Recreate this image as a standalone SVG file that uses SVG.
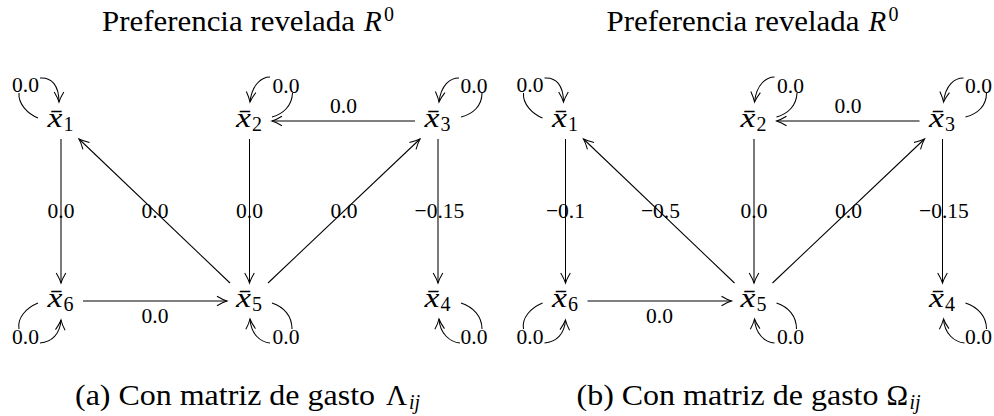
<svg xmlns="http://www.w3.org/2000/svg" width="994" height="416" viewBox="0 0 994 416">
<style>
.ln{stroke:#000;stroke-width:1.05;fill:none}
.ar{marker-end:url(#ah)}
text{font-family:'Liberation Serif','DejaVu Serif',serif;fill:#000}
.lb{font-size:21.5px;text-anchor:middle}
.nx{font-style:italic;font-size:28px}
.ns{font-size:20px}
.tt{font-size:29px}
.ti{font-style:italic;font-size:29px}
.sp{font-size:20px}
.si{font-style:italic;font-size:20px}
</style>
<defs>
<marker id="ah" markerUnits="userSpaceOnUse" viewBox="-12 -7 14 14" markerWidth="14" markerHeight="14" refX="0" refY="0" orient="auto">
<path d="M-10,-4.8 Q-4,-1.2 0,0 Q-4,1.2 -10,4.8" fill="none" stroke="#000" stroke-width="1.05"/>
</marker>
</defs>

<g id="panel-a">
<text class="tt" x="102" y="31" textLength="253" lengthAdjust="spacingAndGlyphs">Preferencia revelada</text>
<text class="ti" x="364" y="31">R</text>
<text class="sp" x="384" y="21">0</text>

<g id="a-edges">
<path class="ln ar" d="M61,139 L61,283"/>
<text class="lb" x="61" y="218">0.0</text>
<path class="ln ar" d="M230,283 L79,139"/>
<text class="lb" x="155" y="218">0.0</text>
<path class="ln ar" d="M249.5,139 L249.5,283"/>
<text class="lb" x="249.5" y="218">0.0</text>
<path class="ln ar" d="M268,283 L420,139"/>
<text class="lb" x="344" y="218">0.0</text>
<path class="ln ar" d="M438,139 L438,283"/>
<text class="lb" x="439.5" y="218">−0.15</text>
<path class="ln ar" d="M415,121 L272,121"/>
<text class="lb" x="343.5" y="113">0.0</text>
<path class="ln ar" d="M83,301 L227,301"/>
<text class="lb" x="155" y="323">0.0</text>
<path class="ln" d="M38,118 C28,114 18,104 19,93"/>
<path class="ln ar" d="M40,78 C52,77 59,86 59,102"/>
<text class="lb" x="25.5" y="92">0.0</text>
<path class="ln" d="M272,117 C283,114 292,106 292.5,93"/>
<path class="ln ar" d="M270,77 C262,77 252,84 250,102"/>
<text class="lb" x="286" y="92.5">0.0</text>
<path class="ln" d="M461,117 C473,114 482,106 482,93"/>
<path class="ln ar" d="M459,78 C450,78 441,85 439,102"/>
<text class="lb" x="474" y="92.5">0.0</text>
<path class="ln" d="M38,303 C26,308 17,318 19,329"/>
<path class="ln ar" d="M40,343 C52,342 60,334 61,320"/>
<text class="lb" x="25.5" y="343.5">0.0</text>
<path class="ln" d="M272,303 C284,307 292,316 292,329"/>
<path class="ln ar" d="M270,343 C260,342 251,334 250,319"/>
<text class="lb" x="286" y="344">0.0</text>
<path class="ln" d="M461,303 C473,307 482,316 482,329"/>
<path class="ln ar" d="M460,343 C450,342 440,334 439,319"/>
<text class="lb" x="474" y="344">0.0</text>
</g>

<g id="a-x1"><text class="nx" x="47.5" y="127" textLength="15" lengthAdjust="spacingAndGlyphs">x̄</text><text class="ns" x="63.5" y="131">1</text></g>
<g id="a-x2"><text class="nx" x="236" y="127" textLength="15" lengthAdjust="spacingAndGlyphs">x̄</text><text class="ns" x="252" y="131">2</text></g>
<g id="a-x3"><text class="nx" x="424.5" y="127" textLength="15" lengthAdjust="spacingAndGlyphs">x̄</text><text class="ns" x="440.5" y="131">3</text></g>
<g id="a-x6"><text class="nx" x="47.5" y="307" textLength="15" lengthAdjust="spacingAndGlyphs">x̄</text><text class="ns" x="63.5" y="311">6</text></g>
<g id="a-x5"><text class="nx" x="236" y="307" textLength="15" lengthAdjust="spacingAndGlyphs">x̄</text><text class="ns" x="252" y="311">5</text></g>
<g id="a-x4"><text class="nx" x="424.5" y="307" textLength="15" lengthAdjust="spacingAndGlyphs">x̄</text><text class="ns" x="440.5" y="311">4</text></g>

<text class="tt" x="75" y="404.5" textLength="300" lengthAdjust="spacingAndGlyphs">(a) Con matriz de gasto</text>
<text class="tt" x="386" y="404.5">Λ</text>
<text class="si" x="409" y="409">ij</text>
</g>

<g id="panel-b" transform="translate(504.5,0)">
<text class="tt" x="102" y="31" textLength="253" lengthAdjust="spacingAndGlyphs">Preferencia revelada</text>
<text class="ti" x="364" y="31">R</text>
<text class="sp" x="384" y="21">0</text>

<g id="b-edges">
<path class="ln ar" d="M61,139 L61,283"/>
<text class="lb" x="61" y="218">−0.1</text>
<path class="ln ar" d="M230,283 L79,139"/>
<text class="lb" x="156" y="218">−0.5</text>
<path class="ln ar" d="M249.5,139 L249.5,283"/>
<text class="lb" x="249.5" y="218">0.0</text>
<path class="ln ar" d="M268,283 L420,139"/>
<text class="lb" x="344" y="218">0.0</text>
<path class="ln ar" d="M438,139 L438,283"/>
<text class="lb" x="439.5" y="218">−0.15</text>
<path class="ln ar" d="M415,121 L272,121"/>
<text class="lb" x="343.5" y="113">0.0</text>
<path class="ln ar" d="M83,301 L227,301"/>
<text class="lb" x="155" y="323">0.0</text>
<path class="ln" d="M38,118 C28,114 18,104 19,93"/>
<path class="ln ar" d="M40,78 C52,77 59,86 59,102"/>
<text class="lb" x="25.5" y="92">0.0</text>
<path class="ln" d="M272,117 C283,114 292,106 292.5,93"/>
<path class="ln ar" d="M270,77 C262,77 252,84 250,102"/>
<text class="lb" x="286" y="92.5">0.0</text>
<path class="ln" d="M461,117 C473,114 482,106 482,93"/>
<path class="ln ar" d="M459,78 C450,78 441,85 439,102"/>
<text class="lb" x="474" y="92.5">0.0</text>
<path class="ln" d="M38,303 C26,308 17,318 19,329"/>
<path class="ln ar" d="M40,343 C52,342 60,334 61,320"/>
<text class="lb" x="25.5" y="343.5">0.0</text>
<path class="ln" d="M272,303 C284,307 292,316 292,329"/>
<path class="ln ar" d="M270,343 C260,342 251,334 250,319"/>
<text class="lb" x="286" y="344">0.0</text>
<path class="ln" d="M461,303 C473,307 482,316 482,329"/>
<path class="ln ar" d="M460,343 C450,342 440,334 439,319"/>
<text class="lb" x="474" y="344">0.0</text>
</g>

<g id="b-x1"><text class="nx" x="47.5" y="127" textLength="15" lengthAdjust="spacingAndGlyphs">x̄</text><text class="ns" x="63.5" y="131">1</text></g>
<g id="b-x2"><text class="nx" x="236" y="127" textLength="15" lengthAdjust="spacingAndGlyphs">x̄</text><text class="ns" x="252" y="131">2</text></g>
<g id="b-x3"><text class="nx" x="424.5" y="127" textLength="15" lengthAdjust="spacingAndGlyphs">x̄</text><text class="ns" x="440.5" y="131">3</text></g>
<g id="b-x6"><text class="nx" x="47.5" y="307" textLength="15" lengthAdjust="spacingAndGlyphs">x̄</text><text class="ns" x="63.5" y="311">6</text></g>
<g id="b-x5"><text class="nx" x="236" y="307" textLength="15" lengthAdjust="spacingAndGlyphs">x̄</text><text class="ns" x="252" y="311">5</text></g>
<g id="b-x4"><text class="nx" x="424.5" y="307" textLength="15" lengthAdjust="spacingAndGlyphs">x̄</text><text class="ns" x="440.5" y="311">4</text></g>

<text class="tt" x="72" y="404.5" textLength="302" lengthAdjust="spacingAndGlyphs">(b) Con matriz de gasto</text>
<text class="tt" x="382" y="404.5">Ω</text>
<text class="si" x="405" y="409">ij</text>
</g>
</svg>
